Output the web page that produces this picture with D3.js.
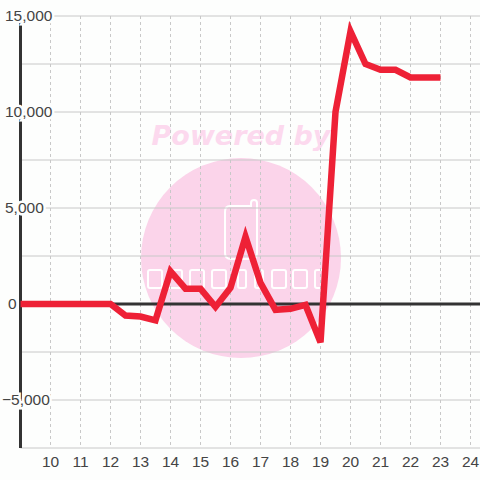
<!DOCTYPE html>
<html>
<head>
<meta charset="utf-8">
<script src="https://cdn.jsdelivr.net/npm/d3@7/dist/d3.min.js"></script>
<style>
  body { margin: 0; background: #fdfefd; }
  svg { display: block; font-family: "Liberation Sans", Arial, sans-serif; }
</style>
</head>
<body>
<svg width="480" height="480"></svg>
<script>
var svg = d3.select("svg"),
    width = +svg.attr("width"),
    height = +svg.attr("height");

// data
var xs = [9, 9.5, 10, 10.5, 11, 11.5, 12, 12.5, 13, 13.5, 14, 14.5, 15, 15.5, 16, 16.5,
          17, 17.5, 18, 18.5, 19, 19.5, 20, 20.5, 21, 21.5, 22, 22.5, 23];
var ys = [0, 0, 0, 0, 0, 0, 0, -600, -650, -850, 1700, 800, 800, -150, 850, 3500,
          1100, -300, -250, -50, -2000, 10000, 14200, 12500, 12200, 12200, 11800, 11800, 11800];
var xTicks = [10, 11, 12, 13, 14, 15, 16, 17, 18, 19, 20, 21, 22, 23, 24];
var yTicks = [-5000, 0, 5000, 10000, 15000];
var yGrid = [-7500, -5000, -2500, 2500, 5000, 7500, 10000, 12500, 15000];

var data = xs.map(function(x, i) { return {x: x, y: ys[i]}; });

// plot edges ("top" is taken by window.top)
var plotL = 20.5, plotR = 480, plotT = 16, plotB = 448;

var x = d3.scaleLinear().domain([9, 24]).range([plotL, 470.5]);
var y = d3.scaleLinear().domain([-7500, 15000]).range([plotB, plotT]);

// watermark (behind grid)
var wm = svg.append("g").attr("class", "watermark");
wm.append("circle")
    .attr("cx", 241).attr("cy", 258).attr("r", 100)
    .attr("fill", "#fbd4ea");
wm.append("text")
    .attr("x", 241).attr("y", 145)
    .attr("text-anchor", "middle")
    .attr("font-family", "DejaVu Sans")
    .attr("font-size", 27)
    .attr("font-weight", "bold")
    .attr("font-style", "italic")
    .attr("fill", "#fcd9ee")
    .text("Powered by");
wm.append("path")
    .attr("d", "M230,206 h21 v-3 q0,-3 3,-3 q3,0 3,3 v50 q0,6 -6,6 h-20 q-6,0 -6,-6 v-41 q0,-6 5,-6 z")
    .attr("fill", "none").attr("stroke", "#fff").attr("stroke-width", 2);
[[148, 14], [168, 14], [190, 14], [212, 14], [238, 8], [255, 8], [272, 14], [293, 14], [315, 10]].forEach(function(r) {
  wm.append("rect")
      .attr("x", r[0]).attr("y", 270).attr("width", r[1]).attr("height", 18)
      .attr("rx", 2)
      .attr("fill", "none").attr("stroke", "#fff").attr("stroke-width", 2);
});

// grid
svg.append("g").selectAll("line")
  .data(xTicks)
  .enter().append("line")
    .attr("x1", function(d) { return x(d); }).attr("x2", function(d) { return x(d); })
    .attr("y1", plotT).attr("y2", plotB)
    .attr("stroke", "#c8c8c8").attr("stroke-dasharray", "3,3");

svg.append("g").selectAll("line")
  .data(yGrid)
  .enter().append("line")
    .attr("x1", plotL).attr("x2", plotR)
    .attr("y1", function(d) { return y(d); }).attr("y2", function(d) { return y(d); })
    .attr("stroke", "#c8c8c8").attr("stroke-width", 1);

// zero line
svg.append("line")
    .attr("x1", plotL).attr("x2", plotR)
    .attr("y1", y(0)).attr("y2", y(0))
    .attr("stroke", "#333").attr("stroke-width", 3);

// left axis
svg.append("line")
    .attr("x1", plotL).attr("x2", plotL)
    .attr("y1", plotT).attr("y2", plotB)
    .attr("stroke", "#333").attr("stroke-width", 3);

// the series
var line = d3.line()
    .x(function(d) { return x(d.x); })
    .y(function(d) { return y(d.y); });

svg.append("path")
    .datum(data)
    .attr("d", line)
    .attr("fill", "none")
    .attr("stroke", "#ee2136")
    .attr("stroke-width", 6.5)
    .attr("stroke-linejoin", "miter");

// y labels, drawn with a halo over the axis
svg.append("g").selectAll("text")
  .data(yTicks)
  .enter().append("text")
    .attr("x", function(d) { return d < 0 ? 2 : (d === 0 ? 8 : 5); })
    .attr("y", function(d) { return y(d); })
    .attr("dy", "0.35em")
    .attr("font-size", 15.5)
    .attr("fill", "#444")
    .attr("stroke", "#fdfefd").attr("stroke-width", 5)
    .attr("paint-order", "stroke")
    .text(function(d) { return d3.format(",")(d); });

// x labels
svg.append("g").selectAll("text")
  .data(xTicks)
  .enter().append("text")
    .attr("x", function(d) { return x(d); })
    .attr("y", 467)
    .attr("text-anchor", "middle")
    .attr("font-size", 15.5)
    .attr("fill", "#444")
    .text(function(d) { return d; });
</script>
</body>
</html>
